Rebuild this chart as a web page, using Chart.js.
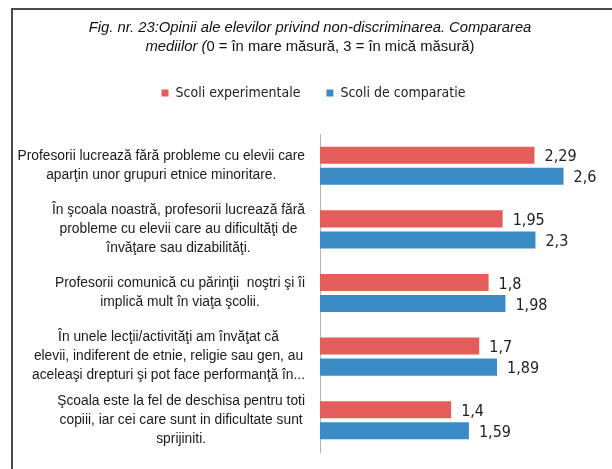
<!DOCTYPE html>
<html>
<head>
<meta charset="utf-8">
<script src="https://cdn.jsdelivr.net/npm/chart.js@4"></script>
<style>
  body { margin: 0; background: #fff; }
  #wrap { position: relative; width: 612px; height: 469px; overflow: hidden; background: #fff; }
  #frame { position: absolute; left: 11px; top: 8px; width: 610px; height: 470px;
           border-left: 2px solid #4a4a4a; border-top: 2px solid #4a4a4a; }
  #title { position: absolute; left: 8px; top: 18px; width: 604px; text-align: center;
           font: 14.8px/19px "Liberation Sans", Arial, sans-serif; color: #111; }
  #title i { font-style: italic; }
  canvas { position: absolute; left: 0; top: 0; }
</style>
</head>
<body>
<div id="wrap">
  <div id="frame"></div>
  <canvas id="graph" width="612" height="469"></canvas>
  <div id="title"><i>Fig. nr. 23:Opinii ale elevilor privind non-discriminarea. Compararea<br>mediilor (</i>0 = în mare măsură, 3 = în mică măsură)</div>
</div>
<script>
// etichete pe axa (deja impartite pe randuri)
const categories = [
    ["Profesorii lucrează fără probleme cu elevii care", "aparţin unor grupuri etnice minoritare."],
    ["În şcoala noastră, profesorii lucrează fără", "probleme cu elevii care au dificultăţi de", "învăţare sau dizabilităţi."],
    ["Profesorii comunică cu părinţii  noştri şi îi", "implică mult în viaţa şcolii."],
    ["În unele lecţii/activităţi am învăţat că", "elevii, indiferent de etnie, religie sau gen, au", "aceleaşi drepturi şi pot face performanţă în..."],
    ["Şcoala este la fel de deschisa pentru toti", "copiii, iar cei care sunt in dificultate sunt", "sprijiniti."]
];
const seriesNames = ["Scoli experimentale", "Scoli de comparatie"];
const experimentale = [2.29, 1.95, 1.8, 1.7, 1.4];
const comparatie = [2.6, 2.3, 1.98, 1.89, 1.59];

const narrow = '"DejaVu Sans Condensed", "Liberation Sans", sans-serif';

// mai mult loc sub legenda, si legenda putin mai la dreapta
const legendGap = {
    id: 'legendGap',
    beforeInit(chart) {
        const fit = chart.legend.fit;
        chart.legend.fit = function () {
            fit.bind(this)();
            this.height += 24;
        };
    },
    afterLayout(chart) {
        chart.legend.left += 6;
        chart.legend.right += 6;
    }
};

// etichetele categoriilor: bloc aliniat la dreapta, randuri centrate
const catLabels = {
    id: 'catLabels',
    afterDraw(chart) {
        const ctx = chart.ctx;
        const y = chart.scales.y;
        ctx.save();
        ctx.font = '13.8px "Liberation Sans", Arial, sans-serif';
        ctx.fillStyle = '#1a1a1a';
        ctx.textAlign = 'center';
        ctx.textBaseline = 'middle';
        chart.data.labels.forEach((lines, i) => {
            const widest = Math.max(...lines.map(l => ctx.measureText(l).width));
            const cx = y.right - 15 - widest / 2;
            const cy = y.getPixelForTick(i);
            const lh = 19;
            lines.forEach((l, k) => {
                ctx.fillText(l, cx, cy + (k - (lines.length - 1) / 2) * lh);
            });
        });
        ctx.restore();
    }
};

// valorile la capatul barelor, cu virgula
const valueLabels = {
    id: 'valueLabels',
    afterDatasetsDraw(chart) {
        const ctx = chart.ctx;
        ctx.save();
        ctx.font = '16px ' + narrow;
        ctx.fillStyle = '#222';
        ctx.textBaseline = 'middle';
        chart.data.datasets.forEach((ds, i) => {
            chart.getDatasetMeta(i).data.forEach((bar, j) => {
                ctx.fillText(String(ds.data[j]).replace('.', ','), bar.x + 10, bar.y + 2);
            });
        });
        ctx.restore();
    }
};

new Chart(document.getElementById('graph'), {
    type: 'bar',
    data: {
        labels: categories,
        datasets: [
            {
                label: seriesNames[0],
                data: experimentale,
                backgroundColor: '#e35d5a',
                categoryPercentage: 0.662,
                barPercentage: 0.81
            },
            {
                label: seriesNames[1],
                data: comparatie,
                backgroundColor: '#3a8bc6',
                categoryPercentage: 0.662,
                barPercentage: 0.81
            }
        ]
    },
    options: {
        indexAxis: 'y',
        responsive: false,
        animation: false,
        layout: {
            padding: { left: 14, right: 11, top: 60, bottom: 17 }
        },
        scales: {
            x: { display: false, min: 0, max: 3 },
            y: {
                grid: { display: false },
                border: { display: true, color: '#b4b4b4', width: 1 },
                ticks: { display: false },
                afterFit(scale) { scale.width = 306; }
            }
        },
        plugins: {
            legend: {
                position: 'top',
                labels: {
                    boxWidth: 7,
                    boxHeight: 7,
                    padding: 26,
                    color: '#222',
                    font: { size: 14, family: narrow }
                }
            },
            tooltip: { enabled: false }
        }
    },
    plugins: [legendGap, catLabels, valueLabels]
});
</script>
</body>
</html>
